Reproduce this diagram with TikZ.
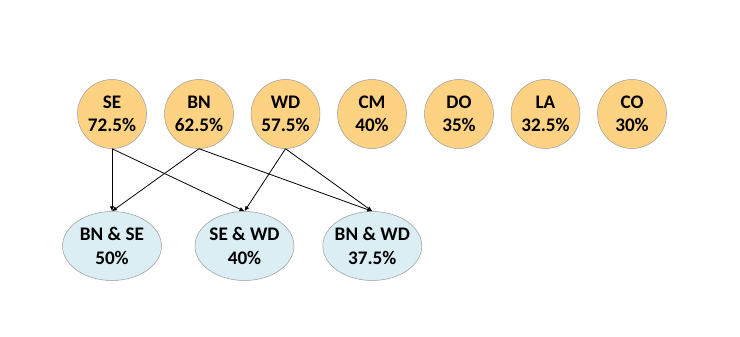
\documentclass[tikz,border=0pt]{standalone}
\usepackage{fontspec}
\setmainfont{Carlito}
\usetikzlibrary{arrows.meta,shapes.geometric}
\definecolor{cfill}{HTML}{FDD282}
\definecolor{efill}{HTML}{DAEEF3}
\definecolor{bord}{HTML}{9A9A9A}
\tikzset{
  topcirc/.style={circle, draw=bord, line width=0.5pt, fill=cfill, minimum size=69pt, inner sep=-8pt, align=center, font=\fontsize{19.2}{23.4}\selectfont\bfseries},
  botell/.style={ellipse, draw=bord, line width=0.5pt, fill=efill, minimum width=99pt, minimum height=69pt, inner sep=-8pt, align=center, font=\fontsize{19.2}{23.4}\selectfont\bfseries},
  conn/.style={draw=black, line width=0.8pt, -{Latex[length=5pt,width=4.5pt]}}
}
\begin{document}
\begin{tikzpicture}[x=1pt,y=-1pt]
\useasboundingbox (0,0) rectangle (740,337);
\node[topcirc] (se) at (112,114) {SE\\72.5\%};
\node[topcirc] (bn) at (199,114) {BN\\62.5\%};
\node[topcirc] (wd) at (285.5,114) {WD\\57.5\%};
\node[topcirc] (cm) at (372,114) {CM\\40\%};
\node[topcirc] (do) at (459,114) {DO\\35\%};
\node[topcirc] (la) at (545.5,114) {LA\\32.5\%};
\node[topcirc] (co) at (632,114) {CO\\30\%};
\node[botell] (bnse) at (112,246) {BN \& SE\\50\%};
\node[botell] (sewd) at (244.5,246) {SE \& WD\\40\%};
\node[botell] (bnwd) at (372.3,246) {BN \& WD\\37.5\%};
\draw[conn] (se.south) -- (bnse.north);
\draw[conn] (se.south) -- (sewd.north);
\draw[conn] (bn.south) -- (bnse.north);
\draw[conn] (bn.south) -- (bnwd.north);
\draw[conn] (wd.south) -- (sewd.north);
\draw[conn] (wd.south) -- (bnwd.north);
\end{tikzpicture}
\end{document}
